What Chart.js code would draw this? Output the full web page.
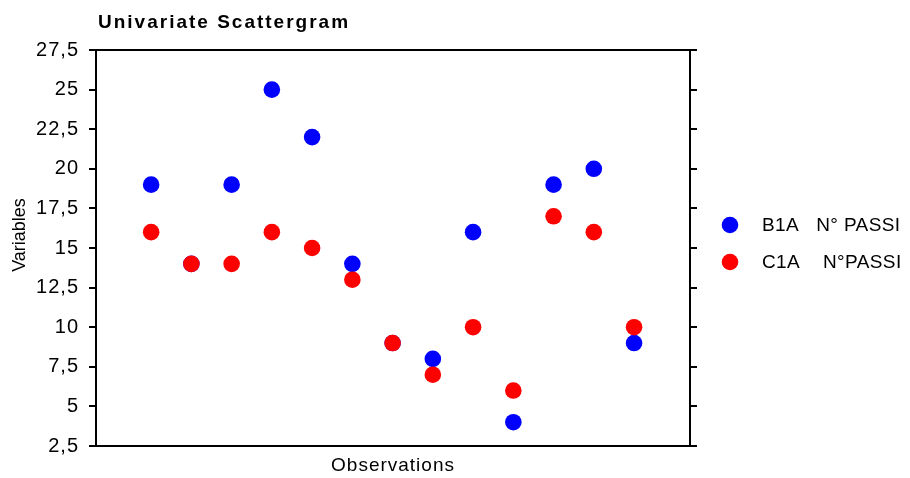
<!DOCTYPE html>
<html>
<head>
<meta charset="utf-8">
<script src="https://cdn.jsdelivr.net/npm/chart.js@4.4.1/dist/chart.umd.min.js"></script>
<style>
  html, body { margin: 0; padding: 0; background: #fff; }
  .wrap { width: 910px; height: 478px; position: relative; }
</style>
</head>
<body>
<div class="wrap"><canvas id="scatter"></canvas></div>
<script>
// data
const observations = [1, 2, 3, 4, 5, 6, 7, 8, 9, 10, 11, 12, 13];
const b1a = [19, 14, 19, 25, 22, 14, 9, 8, 16, 4, 19, 20, 9];
const c1a = [16, 14, 14, 16, 15, 13, 9, 7, 10, 6, 17, 16, 10];
const seriesNames = ['B1A   N° PASSI', 'C1A    N°PASSI'];
const seriesColors = ['#0000ff', '#ff0000'];
const yTickValues = [2.5, 5, 7.5, 10, 12.5, 15, 17.5, 20, 22.5, 25, 27.5];
const yTickLabels = ['2,5', '5', '7,5', '10', '12,5', '15', '17,5', '20', '22,5', '25', '27,5'];

const FONT = 'Liberation Sans, Arial, sans-serif';
Chart.defaults.font.family = FONT;
Chart.defaults.color = '#000';

const toPoints = (ys) => observations.map((x, i) => ({ x: x, y: ys[i] }));

/*--text that is drawn by hand: title, y title, legend--*/
const extras = {
  id: 'extras',
  beforeDraw(chart) {
    chart.ctx.letterSpacing = '1px';
  },
  afterDraw(chart) {
    const ctx = chart.ctx;
    const area = chart.chartArea;
    ctx.save();
    ctx.fillStyle = '#000';

    // title
    ctx.letterSpacing = '2px';
    ctx.font = 'bold 19px ' + FONT;
    ctx.textAlign = 'left';
    ctx.textBaseline = 'alphabetic';
    ctx.fillText('Univariate Scattergram', area.left + 2, 28);

    // y axis title
    ctx.letterSpacing = '0px';
    ctx.save();
    ctx.translate(25, 235);
    ctx.rotate(-Math.PI / 2);
    ctx.font = '18px ' + FONT;
    ctx.textAlign = 'center';
    ctx.fillText('Variables', 0, 0);
    ctx.restore();

    // legend
    ctx.letterSpacing = '0.4px';
    ctx.font = '19px ' + FONT;
    ctx.textBaseline = 'middle';
    ctx.textAlign = 'left';
    const rows = [area.top + 175, area.top + 212];
    chart.data.datasets.forEach((ds, i) => {
      ctx.fillStyle = ds.backgroundColor;
      ctx.beginPath();
      ctx.arc(area.right + 40, rows[i], 8.3, 0, Math.PI * 2);
      ctx.fill();
      ctx.fillStyle = '#000';
      ctx.fillText(ds.label, area.right + 72, rows[i] + 1);
    });
    ctx.restore();
    ctx.letterSpacing = '0px';
  }
};

const axisGrid = { drawOnChartArea: false, drawTicks: true, tickLength: 7, color: '#000', lineWidth: 2 };
const axisBorder = { display: true, color: '#000', width: 2 };
const setTicks = (scale) => { scale.ticks = yTickValues.map(v => ({ value: v })); };

const ctx = document.getElementById('scatter').getContext('2d');
const scatterChart = new Chart(ctx, {
  type: 'scatter',
  data: {
    datasets: [
      {
        label: seriesNames[0],
        data: toPoints(b1a),
        backgroundColor: seriesColors[0],
        borderWidth: 0,
        pointRadius: 8.3,
        pointHoverRadius: 8.3,
        order: 2
      },
      {
        label: seriesNames[1],
        data: toPoints(c1a),
        backgroundColor: seriesColors[1],
        borderWidth: 0,
        pointRadius: 8.3,
        pointHoverRadius: 8.3,
        order: 1
      }
    ]
  },
  options: {
    responsive: true,
    maintainAspectRatio: false,
    animation: false,
    layout: { padding: { top: 50, left: 0, right: 0, bottom: 0 } },
    plugins: {
      legend: { display: false },
      title: { display: false },
      tooltip: { enabled: false }
    },
    scales: {
      x: {
        type: 'linear',
        position: 'bottom',
        min: -0.37,
        max: 14.39,
        grid: { display: false },
        border: axisBorder,
        ticks: { display: false },
        title: { display: true, text: 'Observations', font: { size: 19 }, padding: { top: 0, bottom: 1 } },
        afterFit: (s) => { s.height = 32; }
      },
      xTop: {
        type: 'linear',
        position: 'top',
        min: -0.37,
        max: 14.39,
        grid: { display: false },
        border: axisBorder,
        ticks: { display: false },
        afterFit: (s) => { s.height = 0; }
      },
      y: {
        position: 'left',
        min: 2.5,
        max: 27.5,
        grid: axisGrid,
        border: axisBorder,
        afterBuildTicks: setTicks,
        ticks: {
          font: { size: 20 },
          padding: 10,
          callback: (v, i) => yTickLabels[i]
        },
        afterFit: (s) => { s.width = 96; }
      },
      yRight: {
        position: 'right',
        min: 2.5,
        max: 27.5,
        grid: axisGrid,
        border: axisBorder,
        afterBuildTicks: setTicks,
        ticks: { display: false },
        afterFit: (s) => { s.width = 220; }
      }
    }
  },
  plugins: [extras]
});
</script>
</body>
</html>
